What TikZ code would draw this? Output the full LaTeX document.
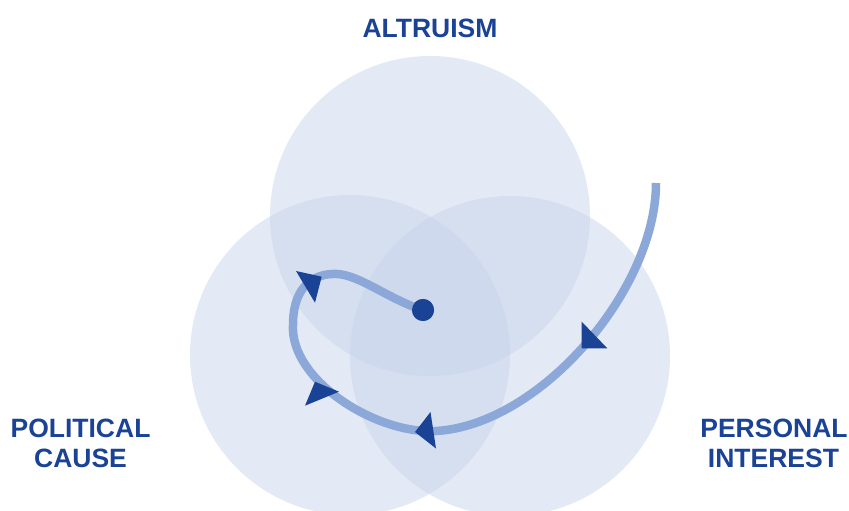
\documentclass[tikz,border=0pt]{standalone}
\usepackage{fontspec}
\setmainfont{Liberation Sans}
\definecolor{txtblue}{RGB}{26,67,150}
\definecolor{pathblue}{RGB}{139,168,216}
\definecolor{circblue}{RGB}{197,210,234}
\begin{document}
\begin{tikzpicture}[x=1pt,y=-1pt,
  label/.style={font=\bfseries\fontsize{26.5}{30}\selectfont, text=txtblue, inner sep=0pt, anchor=base},
  venn/.style={circle, fill=circblue, fill opacity=0.45, minimum size=320pt, inner sep=0pt, draw=none},
  tri/.style={fill=txtblue, draw=none},
  route/.style={draw=pathblue, line width=8.5pt}]
\useasboundingbox (0,0) rectangle (849,511);
\fill[white] (0,0) rectangle (849,511);
\node[venn] (alt) at (430,216) {};
\node[venn] (pol) at (350,355) {};
\node[venn] (per) at (510,356) {};
\node[label] (altt) at (430,37.3) {ALTRUISM};
\node[label] (pol1) at (80.5,437.3) {POLITICAL};
\node[label] (pol2) at (80.5,467.3) {CAUSE};
\node[label] (per1) at (774,437.3) {PERSONAL};
\node[label] (per2) at (773.5,467.3) {INTEREST};
\coordinate (start) at (656,183);
\coordinate (bot) at (436,431);
\coordinate (lft) at (293,325);
\coordinate (tp) at (337,274);
\node[circle, fill=txtblue, minimum size=22pt, inner sep=0pt] (dot) at (423,310) {};
\draw[route] (start) .. controls (656,290) and (540,425) .. (bot)
  .. controls (376,434.5) and (290,380) .. (lft)
  .. controls (293,285) and (315,273) .. (tp)
  .. controls (360,275) and (390,300) .. (dot.center);
\node[circle, fill=txtblue, minimum size=22pt, inner sep=0pt] at (dot) {};
\fill[tri] (581.7,321.7) -- (581.7,348.3) -- (607.3,348.3) -- cycle;
\fill[tri] (415,432) -- (430.5,412) -- (436,448.5) -- cycle;
\fill[tri] (305,405.7) -- (315,381.7) -- (339,391.7) -- cycle;
\fill[tri] (296,271) -- (321.7,276.7) -- (315,302.7) -- cycle;
\end{tikzpicture}
\end{document}
